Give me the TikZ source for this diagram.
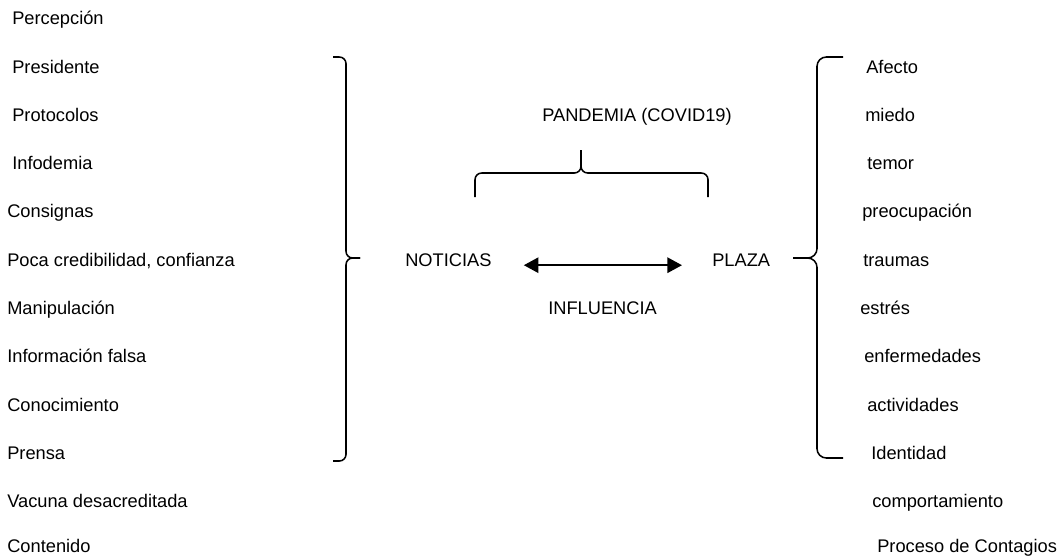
\documentclass[tikz,border=0pt]{standalone}
\usepackage{fontspec}
\setmainfont{Liberation Sans}
\usepackage{tikz}
\usetikzlibrary{positioning,arrows.meta}

\begin{document}
\begin{tikzpicture}[x=0.75pt,y=-0.75pt,
      lab/.style={anchor=base west,inner sep=0pt,font=\fontsize{13.7}{16}\selectfont},
      brc/.style={line width=1.15pt,rounded corners=5pt},
      arr/.style={{Triangle[length=11pt,width=11.5pt]}-{Triangle[length=11pt,width=11.5pt]},
                  line width=1.6pt}]
    \useasboundingbox (0,0) rectangle (1060,557);
    % left column
    \node[lab] (l1)  at (12,24.7)  {Percepción};
    \node[lab] (l2)  at (12,73)    {Presidente};
    \node[lab] (l3)  at (12,121.3) {Protocolos};
    \node[lab] (l4)  at (12,169.6) {Infodemia};
    \node[lab] (l5)  at (7,217.9)  {Consignas};
    \node[lab] (l6)  at (7,266.2)  {Poca credibilidad, confianza};
    \node[lab] (l7)  at (7,314.5)  {Manipulación};
    \node[lab] (l8)  at (7,362.8)  {Información falsa};
    \node[lab] (l9)  at (7,411.1)  {Conocimiento};
    \node[lab] (l10) at (7,459.4)  {Prensa};
    \node[lab] (l11) at (7,507.7)  {Vacuna desacreditada};
    \node[lab] (l12) at (7,552.5)  {Contenido};
    % right column
    \node[lab] (r1)  at (866,73)    {Afecto};
    \node[lab] (r2)  at (865,121.3) {miedo};
    \node[lab] (r3)  at (867,169.6) {temor};
    \node[lab] (r4)  at (862,217.9) {preocupación};
    \node[lab] (r5)  at (863,266.2) {traumas};
    \node[lab] (r6)  at (860,314.5) {estrés};
    \node[lab] (r7)  at (864,362.8) {enfermedades};
    \node[lab] (r8)  at (867,411.1) {actividades};
    \node[lab] (r9)  at (871,459.4) {Identidad};
    \node[lab] (r10) at (872,507.7) {comportamiento};
    \node[lab] (r11) at (877,552.5) {Proceso de Contagios};
    % centre
    \node[lab] (pandemia)   at (542,121.3) {PANDEMIA (COVID19)};
    \node[lab] (noticias)   at (405,266.2) {NOTICIAS};
    \node[lab] (plaza)      at (712,266.2) {PLAZA};
    \node[lab] (influencia) at (548,314.5) {INFLUENCIA};
    \draw[arr,shorten <=24pt,shorten >=22.5pt] ([yshift=0.75pt]noticias.base east) -- ([yshift=0.75pt]plaza.base west);
    % braces
    \draw[brc] (333,57) -- (346,57) -- (346,258) -- (360,258);
    \draw[brc] (360,258) -- (346,258) -- (346,461) -- (333,461);
    \draw[brc,rounded corners=7pt] (843,57) -- (817,57) -- (817,258) -- (793,258);
    \draw[brc,rounded corners=7pt] (793,258) -- (817,258) -- (817,458) -- (843,458);
    \draw[brc] (475,197) -- (475,173) -- (581,173) -- (581,150);
    \draw[brc] (581,150) -- (581,173) -- (708,173) -- (708,197);
  \end{tikzpicture}
\end{document}
